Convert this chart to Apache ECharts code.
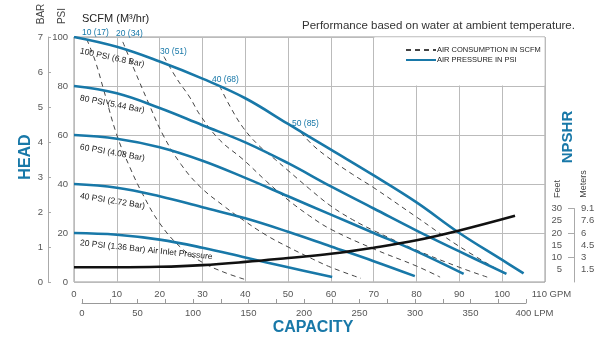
<!DOCTYPE html>
<html>
<head>
<meta charset="utf-8">
<script src="https://cdn.jsdelivr.net/npm/echarts@6.0.0/dist/echarts.min.js"></script>
<style>
  html, body { margin: 0; padding: 0; background: #fff; }
  #chart { width: 607px; height: 350px; }
</style>
</head>
<body>
<div id="chart"></div>
<script>
// air pressure curves, [GPM, PSI head]
const psi100 = [[0,100],[10,96],[20,90],[30,83],[40,75],[50,64.5],[60,54],[70,43.5],[80,32.5],[90,20],[100,9],[105,3.5]];
const psi80 = [[0,80],[10,77],[20,71],[30,64],[40,57],[50,48.5],[60,39],[70,30],[80,21],[90,12.5],[101,3.3]];
const psi60 = [[0,60],[10,58.5],[20,55],[30,49.5],[40,42.5],[50,35],[60,27.5],[70,20],[80,12.5],[91,3.3]];
const psi40 = [[0,40],[10,38.5],[20,35],[30,30.5],[40,26],[50,20.5],[60,14.5],[70,8.5],[79.6,2.4]];
const psi20 = [[0,20],[10,19.3],[20,17.3],[30,14],[40,10],[50,6],[60.3,2]];

// air consumption curves (SCFM)
const scfm10 = [[3,99],[5,90],[7,78],[10,60],[13,47],[16,36],[20,24],[25,14],[30,8],[35,4],[40,1]];
const scfm20 = [[11.4,98],[14,87],[17.3,73.5],[20.8,60],[25,48],[29.5,38.8],[35,31],[39.5,25.3],[45,19],[50,14.3],[55,10],[60,6],[67,1.5]];
const scfm30 = [[21,92],[24,83],[27,75.5],[29.5,68],[34,58],[39.5,50],[45,41],[50,33.5],[55,27],[60,21.5],[70,13.5],[80,6.5],[85.5,2]];
const scfm40 = [[34,80],[36.5,71.5],[39.5,63],[43,56],[47,50],[50,45.5],[55,38],[60,31],[65,25.5],[70,21],[80,13],[90,6],[96.5,2]];
const scfm50 = [[53,61],[56,55.5],[60,50],[65,44],[70,38.5],[80,26.5],[90,14.5],[101,3]];

// NPSHR in feet
const npshr = [[0,6],[10,6],[20,6.2],[30,6.9],[40,8.2],[50,9.8],[60,11.5],[70,14],[80,17],[90,21],[103,27]];

const feetTicks = [5, 10, 15, 20, 25, 30];
const meterTicks = ['1.5', '3', '4.5', '6', '7.6', '9.1'];
const psiLabels = ['100 PSI (6.8 Bar)', '80 PSI (5.44 Bar)', '60 PSI (4.08 Bar)', '40 PSI (2.72 Bar)', '20 PSI (1.36 Bar) Air Inlet Pressure'];
const scfmLabels = ['10 (17)', '20 (34)', '30 (51)', '40 (68)', '50 (85)'];

const BLUE = '#1878a8';
const FONT = 'Liberation Sans, Arial, sans-serif';
const AIR = 'AIR CONSUMPTION IN SCFM';
const PRES = 'AIR PRESSURE IN PSI';

function blueLine(data) {
  return { type: 'line', name: PRES, data: data, smooth: 0.4, symbol: 'none',
    lineStyle: { color: BLUE, width: 2.6 }, itemStyle: { color: BLUE }, z: 4, silent: true };
}
function dashLine(data) {
  return { type: 'line', name: AIR, data: data, smooth: 0.4, symbol: 'none',
    lineStyle: { color: '#444', width: 1, type: [5, 4] }, itemStyle: { color: '#444' }, z: 3, silent: true };
}
function txt(s, x, y, opt) {
  opt = opt || {};
  return { type: 'text', x: x, y: y, rotation: opt.rot || 0, z: 10,
    style: { text: s, fill: opt.color || '#222', font: opt.font || ('8.5px ' + FONT),
      textAlign: opt.align || 'left', textVerticalAlign: 'middle', align: opt.align || 'left', verticalAlign: 'middle' } };
}
const deg = Math.PI / 180;

const chart = echarts.init(document.getElementById('chart'), null, { renderer: 'canvas' });

const pressureSeries = [psi100, psi80, psi60, psi40, psi20].map(blueLine);
pressureSeries[0].markArea = {
  silent: true,
  itemStyle: { color: '#fff' },
  data: [[{ coord: [70.15, 80.25] }, { coord: [109.88, 99.85] }]]
};

const option = {
  animation: false,
  textStyle: { fontFamily: FONT },
  title: {
    text: 'Performance based on water at ambient temperature.',
    left: 297, top: 15,
    textStyle: { fontSize: 11.5, fontWeight: 'normal', color: '#333', fontFamily: FONT }
  },
  legend: {
    data: [AIR, PRES],
    orient: 'vertical', left: 400, top: 41,
    itemWidth: 30, itemHeight: 8, itemGap: 2,
    selectedMode: false,
    itemStyle: { opacity: 0 },
    textStyle: { fontSize: 7.5, color: '#222', fontFamily: FONT, padding: [0, 0, 0, -4] }
  },
  grid: [
    { left: 74, right: 62, top: 37, bottom: 68, show: true, borderColor: '#999', borderWidth: 1 },
    { left: 574, right: 32, top: 208.5, bottom: 68 },
    { left: 82, right: 81, top: 302, bottom: 47 }
  ],
  xAxis: [
    { type: 'value', gridIndex: 0, min: 0, max: 110, interval: 10,
      axisLine: { show: false }, axisTick: { show: false },
      axisLabel: { margin: 7, fontSize: 9.5, color: '#555',
        formatter: v => v === 110 ? '{u|110 GPM}' : String(v),
        rich: { u: { fontSize: 9.5, color: '#555', padding: [0, 0, 0, 13] } } },
      splitLine: { show: true, lineStyle: { color: '#bbb', width: 1 } } },
    { type: 'value', gridIndex: 1, show: false },
    { type: 'value', gridIndex: 2, min: 0, max: 400, interval: 25,
      axisLine: { show: true, onZero: false, lineStyle: { color: '#999' } },
      axisTick: { show: true, inside: true, length: 4, lineStyle: { color: '#999' } },
      axisLabel: { margin: 5, fontSize: 9.5, color: '#555',
        formatter: v => v % 50 ? '' : (v === 400 ? '{u|400 LPM}' : String(v)),
        rich: { u: { fontSize: 9.5, color: '#555', padding: [0, 0, 0, 17] } } },
      splitLine: { show: false } }
  ],
  yAxis: [
    { type: 'value', gridIndex: 0, min: 0, max: 100, interval: 20, position: 'left',
      axisLine: { show: false }, axisTick: { show: false },
      axisLabel: { margin: 6, fontSize: 9.5, color: '#555' },
      splitLine: { show: true, lineStyle: { color: '#bbb', width: 1 } } },
    { type: 'value', gridIndex: 0, min: 0, max: 7, interval: 1, position: 'left', offset: 26,
      axisLine: { show: true, lineStyle: { color: '#aaa' } },
      axisTick: { show: true, inside: true, length: 3, lineStyle: { color: '#aaa' } },
      axisLabel: { margin: 5, fontSize: 9.5, color: '#555' },
      splitLine: { show: false } },
    { type: 'value', gridIndex: 1, min: 0, max: 30, interval: 5, position: 'left',
      axisLine: { show: true, lineStyle: { color: '#aaa' } },
      axisTick: { show: true, length: 6, customValues: [10, 20, 30], lineStyle: { color: '#aaa' } },
      axisLabel: { margin: 12, fontSize: 9.5, color: '#555',
        formatter: v => feetTicks.indexOf(v) >= 0 ? String(v) : '' },
      splitLine: { show: false } },
    { type: 'value', gridIndex: 1, min: 0, max: 30, interval: 5, position: 'right',
      axisLine: { show: false }, axisTick: { show: false },
      axisLabel: { margin: 6, fontSize: 9.5, color: '#555',
        formatter: v => { const i = feetTicks.indexOf(v); return i >= 0 ? meterTicks[i] : ''; } },
      splitLine: { show: false } },
    { type: 'value', gridIndex: 2, show: false }
  ],
  series: [
    ...[scfm10, scfm20, scfm30, scfm40, scfm50].map(dashLine),
    ...pressureSeries,
    { type: 'line', name: 'NPSHR', data: npshr, smooth: 0.4, symbol: 'none',
      lineStyle: { color: '#111', width: 2.6 }, z: 5, silent: true }
  ],
  graphic: [
    txt('HEAD', 26, 157, { rot: 90 * deg, align: 'center', color: BLUE, font: 'bold 16px ' + FONT }),
    txt('CAPACITY', 313, 328, { align: 'center', color: BLUE, font: 'bold 16px ' + FONT }),
    txt('NPSHR', 568, 137, { rot: 90 * deg, align: 'center', color: BLUE, font: 'bold 15px ' + FONT }),
    txt('BAR', 41, 14, { rot: 90 * deg, align: 'center', color: '#444', font: '10px ' + FONT }),
    txt('PSI', 62, 16, { rot: 90 * deg, align: 'center', color: '#444', font: '10px ' + FONT }),
    txt('SCFM (M³/hr)', 82, 19, { color: '#222', font: '11px ' + FONT }),
    txt('Feet', 558, 189, { rot: 90 * deg, align: 'center', color: '#444', font: '9px ' + FONT }),
    txt('Meters', 584, 184, { rot: 90 * deg, align: 'center', color: '#444', font: '9px ' + FONT }),
    txt(psiLabels[0], 80, 51, { rot: -12 * deg }),
    txt(psiLabels[1], 80, 98, { rot: -11 * deg }),
    txt(psiLabels[2], 80, 147, { rot: -10 * deg }),
    txt(psiLabels[3], 80, 196, { rot: -9 * deg }),
    txt(psiLabels[4], 80, 243, { rot: -6 * deg }),
    txt(scfmLabels[0], 82, 33, { color: BLUE }),
    txt(scfmLabels[1], 116, 34, { color: BLUE }),
    txt(scfmLabels[2], 160, 52, { color: BLUE }),
    txt(scfmLabels[3], 212, 80, { color: BLUE }),
    txt(scfmLabels[4], 292, 124, { color: BLUE })
  ]
};

chart.setOption(option);
</script>
</body>
</html>
